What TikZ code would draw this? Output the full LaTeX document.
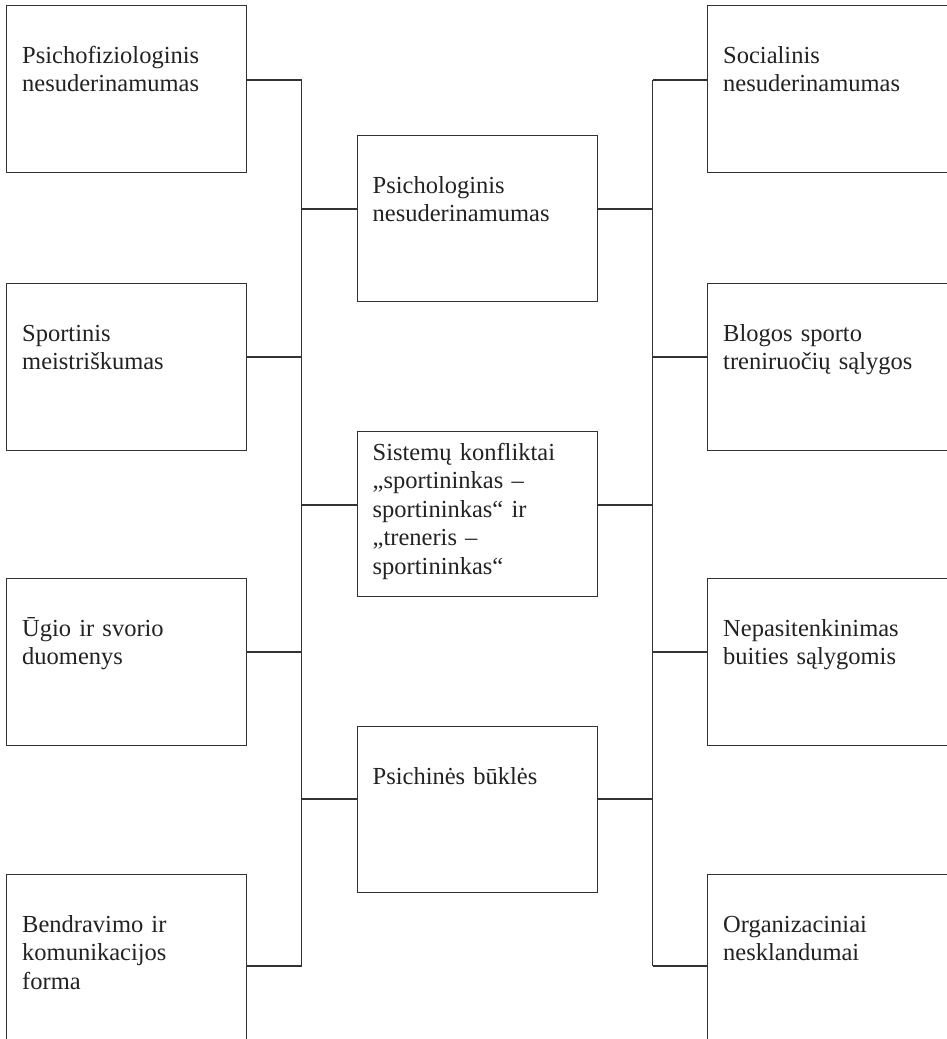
\documentclass[tikz,border=0pt]{standalone}
\usepackage{fontspec}
\setmainfont{Liberation Serif}
\definecolor{ink}{HTML}{222222}
\definecolor{rule}{HTML}{333333}
\begin{document}
\begin{tikzpicture}[x=1pt,y=-1pt,
  box/.style={draw=rule,line width=1.1pt,minimum width=240pt,minimum height=167pt,
    inner sep=0pt,anchor=north west},
  txt/.style={text=ink,font=\fontsize{24.5pt}{28.5pt}\selectfont,inner sep=0pt,
    text width=225pt,align=left,anchor=base west},
  link/.style={draw=rule,line width=1.1pt}]
\useasboundingbox (0,0) rectangle (946,1039);

% left column
\node[box] (l1) at (6,5) {};
\node[box] (l2) at (6,283) {};
\node[box] (l3) at (6,578) {};
\node[box] (l4) at (6,874) {};
% centre column
\node[box,minimum height=166pt] (c1) at (356.5,135) {};
\node[box,minimum height=165pt] (c2) at (356.5,431) {};
\node[box,minimum height=166pt] (c3) at (356.5,726) {};
% right column
\node[box] (r1) at (707,5) {};
\node[box] (r2) at (707,283) {};
\node[box] (r3) at (707,578) {};
\node[box] (r4) at (707,874) {};

% texts
\node[txt] (tl1) at ([xshift=16pt,yshift=-58pt]l1.north west) {Psichofiziologinis\\nesuderinamumas};
\node[txt] (tl2) at ([xshift=16pt,yshift=-58pt]l2.north west) {Sportinis\\meistriškumas};
\node[txt] (tl3) at ([xshift=16pt,yshift=-58pt]l3.north west) {Ūgio ir svorio\\duomenys};
\node[txt] (tl4) at ([xshift=16pt,yshift=-58pt]l4.north west) {Bendravimo ir\\komunikacijos\\forma};
\node[txt] (tc1) at ([xshift=16pt,yshift=-58pt]c1.north west) {Psichologinis\\nesuderinamumas};
\node[txt] (tc2) at ([xshift=16pt,yshift=-29pt]c2.north west) {Sistemų konfliktai\\„sportininkas –\\sportininkas“ ir\\„treneris –\\sportininkas“};
\node[txt] (tc3) at ([xshift=16pt,yshift=-58pt]c3.north west) {Psichinės būklės};
\node[txt] (tr1) at ([xshift=16pt,yshift=-58pt]r1.north west) {Socialinis\\nesuderinamumas};
\node[txt] (tr2) at ([xshift=16pt,yshift=-58pt]r2.north west) {Blogos sporto\\treniruočių sąlygos};
\node[txt] (tr3) at ([xshift=16pt,yshift=-58pt]r3.north west) {Nepasitenkinimas\\buities sąlygomis};
\node[txt] (tr4) at ([xshift=16pt,yshift=-58pt]r4.north west) {Organizaciniai\\nesklandumai};

% trunk junctions
\coordinate (lj1) at (301.5,80);
\coordinate (lj2) at (301.5,357);
\coordinate (lj3) at (301.5,652);
\coordinate (lj4) at (301.5,966);
\coordinate (lc1) at (301.5,209);
\coordinate (lc2) at (301.5,505);
\coordinate (lc3) at (301.5,799);
\coordinate (rj1) at (652.5,80);
\coordinate (rj2) at (652.5,357);
\coordinate (rj3) at (652.5,652);
\coordinate (rj4) at (652.5,966);
\coordinate (rc1) at (652.5,209);
\coordinate (rc2) at (652.5,505);
\coordinate (rc3) at (652.5,799);

% vertical trunks
\draw[link] (lj1) -- (lj4);
\draw[link] (rj1) -- (rj4);

% side boxes to trunks
\foreach \i in {1,2,3,4}{
  \draw[link] (l\i.east |- lj\i) -- (lj\i);
  \draw[link] (r\i.west |- rj\i) -- (rj\i);
}
% centre boxes to both trunks
\foreach \i in {1,2,3}{
  \draw[link] (lc\i) -- (c\i.west |- lc\i);
  \draw[link] (c\i.east |- rc\i) -- (rc\i);
}
\end{tikzpicture}
\end{document}
